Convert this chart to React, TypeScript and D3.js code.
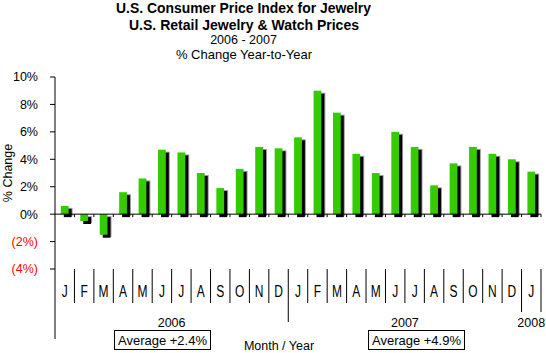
import React from "react";
import * as d3 from "d3";

const months = ["J", "F", "M", "A", "M", "J", "J", "A", "S", "O", "N", "D",
  "J", "F", "M", "A", "M", "J", "J", "A", "S", "O", "N", "D", "J"];
const changes = [0.6, -0.5, -1.5, 1.6, 2.6, 4.7, 4.5, 3.0, 1.9, 3.3, 4.9, 4.8,
  5.6, 9.0, 7.4, 4.4, 3.0, 6.0, 4.9, 2.1, 3.7, 4.9, 4.4, 4.0, 3.1];
const years = ["2006", "2007", "2008"];
const yearStart = [0, 12, 24];
const yearLength = [12, 12, 1];
const averages = ["Average +2.4%", "Average +4.9%"];
const yTicks = [-4, -2, 0, 2, 4, 6, 8, 10];

const font = "Arial, 'Liberation Sans', sans-serif";
const green = "#33cc00";

function App() {
  const width = 546, height = 353;
  const margin = { left: 55, right: 5, top: 77, bottom: 84 };

  const x = d3.scaleBand<number>()
    .domain(d3.range(months.length))
    .range([margin.left, width - margin.right])
    .padding(0);

  const y = d3.scaleLinear()
    .domain([-4, 10])
    .range([height - margin.bottom, margin.top]);

  const bw = x.bandwidth() * 0.4;
  const fmt = (v: number) => (v < 0 ? `(${Math.abs(v)}%)` : `${v}%`);
  const y0 = y(0);
  const rowTop = y(-4);

  // separator lengths below month row
  const sepEnd = (i: number) => {
    if (i === 12) return 322;
    if (i >= 24) return 312;
    return 303;
  };

  return (
    <svg width={width} height={height}
      style={{ position: "absolute", left: 0, top: 0, background: "#fff" }}
      fontFamily={font}>
      <g textAnchor="middle" fill="#000">
        <text x={243.5} y={12.5} fontSize={14} fontWeight="bold"
          textLength={255} lengthAdjust="spacingAndGlyphs">U.S. Consumer Price Index for Jewelry</text>
        <text x={244} y={29.5} fontSize={14} fontWeight="bold"
          textLength={230} lengthAdjust="spacingAndGlyphs">U.S. Retail Jewelry &amp; Watch Prices</text>
        <text x={243.5} y={44} fontSize={12.5}>2006 - 2007</text>
        <text x={244} y={59} fontSize={13}>% Change Year-to-Year</text>
      </g>

      {/* y axis */}
      <line x1={margin.left} x2={margin.left} y1={y(10)} y2={339} stroke="#000" />
      {yTicks.map(t => (
        <g key={t}>
          <line x1={margin.left - 5} x2={margin.left} y1={y(t)} y2={y(t)} stroke="#000" />
          <text x={38} y={y(t)} dy="0.35em" textAnchor="end" fontSize={12.5}
            fill={t < 0 ? "#ff0000" : "#000"}>{fmt(t)}</text>
        </g>
      ))}
      <text transform={`translate(11.5,${(y(10) + y(-4)) / 2}) rotate(-90)`}
        textAnchor="middle" fontSize={12.5}>% Change</text>

      {/* bars with shadow */}
      {changes.map((v, i) => {
        const cx = x(i)! + x.bandwidth() / 2;
        const top = Math.min(y(v), y0);
        const h = Math.abs(y(v) - y0);
        return (
          <g key={i}>
            <rect x={cx - bw / 2 + 4} y={top + 2} width={bw} height={h} fill="#999" />
            <rect x={cx - bw / 2 + 3} y={top + 3} width={bw} height={h} fill="#000" />
            <rect x={cx - bw / 2} y={top} width={bw} height={h} fill={green} />
          </g>
        );
      })}

      {/* x axis */}
      <line x1={margin.left} x2={width - margin.right} y1={y0} y2={y0} stroke="#000" />
      {d3.range(1, months.length + 1).map(i => {
        const bx = i < months.length ? x(i)! : x.range()[1];
        return (
          <g key={i}>
            <line x1={bx} x2={bx} y1={y0} y2={y0 + 3} stroke="#000" />
            <line x1={bx} x2={bx} y1={rowTop} y2={sepEnd(i)} stroke="#000" />
          </g>
        );
      })}
      {months.map((m, i) => (
        <text key={i} transform={`translate(${x(i)! + x.bandwidth() / 2},292) scale(1,1.3)`}
          dy="0.35em" textAnchor="middle" fontSize={12}>{m}</text>
      ))}
      {years.map((yr, i) => {
        const cx = x(yearStart[i])! + (x.bandwidth() * yearLength[i]) / 2;
        return (
          <text key={yr} x={cx} y={323} dy="0.35em" textAnchor="middle" fontSize={12.5}>{yr}</text>
        );
      })}

      {averages.map((a, i) => {
        const cx = i === 0 ? 162.5 : 416.5;
        return (
          <g key={a}>
            <rect x={cx - 48} y={330.5} width={96} height={19} fill="#fff" stroke="#000" />
            <text x={cx} y={340.5} dy="0.35em" textAnchor="middle" fontSize={13}>{a}</text>
          </g>
        );
      })}
      <text x={279} y={345.5} dy="0.35em" textAnchor="middle" fontSize={12.5}>Month / Year</text>
    </svg>
  );
}

export default App;
